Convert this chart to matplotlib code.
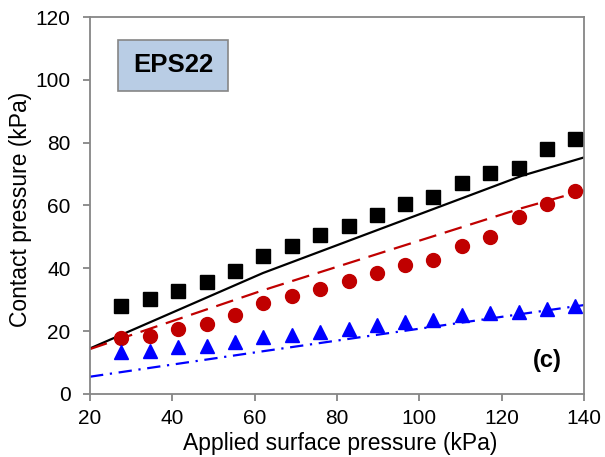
import matplotlib
matplotlib.use("Agg")
import matplotlib.pyplot as plt
from matplotlib.patches import Rectangle

plt.rcParams['font.family'] = ['Liberation Sans', 'DejaVu Sans']

# Measured data (markers)
x_meas = [27.6, 34.5, 41.4, 48.3, 55.2, 62.1, 69.0, 75.9, 82.8, 89.7, 96.6, 103.4, 110.3, 117.2, 124.1, 131.0, 137.9]
squares = [28.0, 30.2, 32.7, 35.8, 39.3, 43.8, 47.0, 50.5, 53.4, 56.9, 60.6, 62.8, 67.0, 70.3, 71.9, 77.9, 81.3]
circles = [17.7, 18.6, 20.6, 22.2, 25.2, 28.9, 31.2, 33.3, 36.0, 38.6, 40.9, 42.7, 47.1, 50.1, 56.2, 60.5, 64.7]
triangles = [13.3, 13.8, 14.8, 15.3, 16.5, 18.1, 18.8, 19.6, 20.6, 22.0, 23.0, 23.6, 25.2, 25.9, 26.2, 27.0, 28.0]

# Model lines
x_line = [20, 62, 125, 140]
solid_line = [14.5, 38.5, 69.5, 75.3]
dashed_line = [14.3, 33.0, 59.2, 64.8]
dashdot_line = [5.5, 13.6, 25.5, 28.3]

xticks = [20, 40, 60, 80, 100, 120, 140]
yticks = [0, 20, 40, 60, 80, 100, 120]

fig = plt.figure(figsize=(6.05, 4.57), dpi=100)
ax = fig.add_axes([0.1488, 0.1379, 0.8165, 0.8249])

ax.plot(x_line, solid_line, color='black', lw=1.6, zorder=2)
ax.plot(x_line, dashed_line, color='#c00000', lw=1.6, linestyle=(0, (8, 4)), zorder=2)
ax.plot(x_line, dashdot_line, color='#0000ff', lw=1.6, linestyle=(0, (6, 3, 1, 3)), zorder=2)

ax.plot(x_meas, squares, 's', color='black', markersize=9.5, zorder=3, clip_on=False)
ax.plot(x_meas, circles, 'o', color='#c00000', markersize=10, zorder=3, clip_on=False)
ax.plot(x_meas, triangles, '^', color='#0000ff', markersize=10, zorder=3, clip_on=False)

ax.set_xlim(20, 140)
ax.set_ylim(0, 120)
ax.set_xticks(xticks)
ax.set_yticks(yticks)

for s in ax.spines.values():
    s.set_color('#868686')
    s.set_linewidth(1.3)

ax.tick_params(axis='both', direction='out', length=5, width=1.3, color='#868686',
               labelsize=15)
ax.tick_params(axis='y', pad=9)
ax.tick_params(axis='x', pad=6)

ax.set_xlabel('Applied surface pressure (kPa)', fontsize=16.5)
ax.xaxis.label.set_va('center')
ax.xaxis.set_label_coords(0.506, -0.1326)
ax.set_ylabel('Contact pressure (kPa)', fontsize=16.5)
ax.yaxis.label.set_va('center')
ax.yaxis.set_label_coords(-0.1417, 0.49)

ax.add_patch(Rectangle((26.8, 96.5), 26.7, 16.2, facecolor='#b9cde5', edgecolor='#868686',
                       linewidth=1.2, zorder=4))
ax.text(40.2, 104.6, 'EPS22', fontsize=18.5, fontweight='bold', ha='center', va='center', zorder=5)
ax.text(131, 10.5, '(c)', fontsize=17, fontweight='bold', ha='center', va='center')

fig.savefig('out.png', dpi=100)
